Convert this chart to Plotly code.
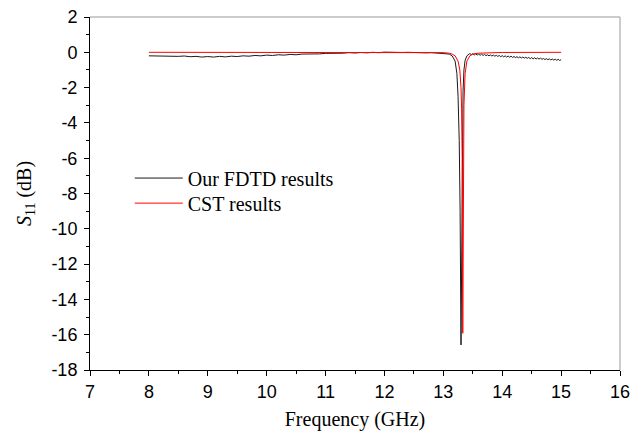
import plotly.graph_objects as go

# FDTD simulation: S11 (dB) versus frequency (GHz)
fdtd_freq = [
    8.0, 8.1, 8.2, 8.3, 8.4, 8.5, 8.6, 8.7, 8.8, 8.9,
    9.0, 9.1, 9.2, 9.3, 9.4, 9.5, 9.6, 9.7, 9.8, 9.9,
    10.0, 10.1, 10.2, 10.3, 10.4, 10.5, 10.6, 10.7, 10.8, 10.9,
    11.0, 11.1, 11.2, 11.3, 11.4, 11.5, 11.6, 11.7, 11.8, 11.9,
    12.0, 12.1, 12.2, 12.3, 12.4, 12.5, 12.6, 12.7, 12.8, 12.9,
    13.0, 13.05, 13.1, 13.15, 13.2, 13.23, 13.25, 13.27, 13.285, 13.3,
    13.31, 13.32, 13.335, 13.35, 13.37, 13.4, 13.425,
    13.45, 13.475, 13.5, 13.525, 13.55, 13.575, 13.6, 13.625, 13.65, 13.675,
    13.7, 13.725, 13.75, 13.775, 13.8, 13.825, 13.85, 13.875, 13.9, 13.925,
    13.95, 13.975, 14.0, 14.025, 14.05, 14.075, 14.1, 14.125, 14.15, 14.175,
    14.2, 14.225, 14.25, 14.275, 14.3, 14.325, 14.35, 14.375, 14.4, 14.425,
    14.45, 14.475, 14.5, 14.525, 14.55, 14.575, 14.6, 14.625, 14.65, 14.675,
    14.7, 14.725, 14.75, 14.775, 14.8, 14.825, 14.85, 14.875, 14.9, 14.925,
    14.95, 14.975, 15.0,
]
fdtd_s11 = [
    -0.20, -0.21, -0.20, -0.22, -0.21, -0.23, -0.21, -0.25, -0.23, -0.27,
    -0.24, -0.27, -0.23, -0.26, -0.22, -0.24, -0.20, -0.22, -0.18, -0.20,
    -0.16, -0.18, -0.14, -0.16, -0.12, -0.14, -0.10, -0.11, -0.08, -0.09,
    -0.06, -0.07, -0.04, -0.05, -0.02, -0.04, -0.01, -0.03, 0.00, -0.02,
    0.01, -0.01, 0.01, -0.01, 0.00, -0.02, -0.01, -0.03, -0.02, -0.04,
    -0.04, -0.06, -0.10, -0.20, -0.50, -1.20, -2.50, -5.00, -9.00, -16.58,
    -11.00, -5.50, -2.20, -1.00, -0.45, -0.20, -0.12,
    -0.07, -0.135, -0.08, -0.15, -0.09, -0.16, -0.10, -0.17, -0.11, -0.18,
    -0.12, -0.19, -0.14, -0.20, -0.15, -0.21, -0.16, -0.22, -0.17, -0.23,
    -0.18, -0.25, -0.19, -0.26, -0.20, -0.27, -0.21, -0.28, -0.22, -0.29,
    -0.24, -0.30, -0.25, -0.31, -0.26, -0.32, -0.27, -0.33, -0.28, -0.34,
    -0.29, -0.36, -0.30, -0.37, -0.31, -0.38, -0.32, -0.39, -0.33, -0.40,
    -0.35, -0.41, -0.36, -0.42, -0.37, -0.43, -0.38, -0.44, -0.39, -0.45,
    -0.40, -0.46, -0.42,
]

# CST reference: S11 (dB) versus frequency (GHz)
cst_freq = [
    8.0, 9.0, 10.0, 11.0, 12.0, 12.8, 13.0, 13.1, 13.15, 13.2,
    13.25, 13.28, 13.3, 13.31, 13.32, 13.33, 13.34, 13.35, 13.37, 13.4,
    13.45, 13.5, 13.6, 13.8, 14.0, 15.0,
]
cst_s11 = [
    0.0, 0.0, 0.0, 0.0, 0.0, 0.0, -0.02, -0.05, -0.10, -0.20,
    -0.50, -1.00, -2.00, -3.20, -6.00, -15.92, -7.00, -3.00, -1.20, -0.50,
    -0.20, -0.10, -0.05, -0.02, -0.01, 0.0,
]

x_ticks = [7, 8, 9, 10, 11, 12, 13, 14, 15, 16]
y_ticks = [2, 0, -2, -4, -6, -8, -10, -12, -14, -16, -18]
y_tick_text = [str(v) for v in y_ticks]

serif = "Liberation Serif, Times New Roman, serif"
sans = "Liberation Sans, Arial, sans-serif"

fig = go.Figure()
fig.add_trace(go.Scatter(
    x=fdtd_freq, y=fdtd_s11, mode="lines", name="Our FDTD results",
    line=dict(color="#1a1a1a", width=1), legend="legend",
))
fig.add_trace(go.Scatter(
    x=cst_freq, y=cst_s11, mode="lines", name="CST results",
    line=dict(color="#ff0000", width=1), legend="legend2",
))

axis_common = dict(
    showgrid=False, zeroline=False, showline=True, linecolor="black",
    linewidth=1, ticks="outside", ticklen=5, tickwidth=1, tickcolor="black",
    tickfont=dict(family=sans, size=18, color="black"),
    automargin=False,
)

fig.update_xaxes(
    range=[7, 16], tickvals=x_ticks,
    minor=dict(ticks="outside", ticklen=3, tickwidth=1, tickcolor="black", dtick=0.5, tick0=7),
    title=dict(text="Frequency (GHz)", font=dict(family=serif, size=20, color="black"), standoff=11),
    **axis_common,
)
fig.update_yaxes(
    range=[-18, 2], tickvals=y_ticks, ticktext=y_tick_text,
    minor=dict(ticks="outside", ticklen=3, tickwidth=1, tickcolor="black", dtick=1, tick0=0),
    title=dict(text="<i>S</i><sub>11</sub> (dB)", font=dict(family=serif, size=20, color="black"), standoff=14),
    ticklabelstandoff=3,
    **axis_common,
)

# Light frame on the top and right sides of the plotting area
fig.add_shape(type="line", xref="paper", yref="paper", x0=0, x1=1, y0=1, y1=1,
              line=dict(color="#999999", width=1))
fig.add_shape(type="line", xref="paper", yref="paper", x0=1, x1=1, y0=0, y1=1,
              line=dict(color="#999999", width=1))

legend_style = dict(
    x=0.075, xanchor="left", yanchor="top",
    bgcolor="rgba(0,0,0,0)", borderwidth=0,
    font=dict(family=serif, size=20, color="black"),
    itemwidth=48,
)

fig.update_layout(
    width=641, height=433,
    margin=dict(l=90, r=21, t=17, b=63),
    paper_bgcolor="white", plot_bgcolor="white",
    showlegend=True,
    legend=dict(y=0.599, **legend_style),
    legend2=dict(y=0.528, **legend_style),
)

fig.write_html("out.html")
